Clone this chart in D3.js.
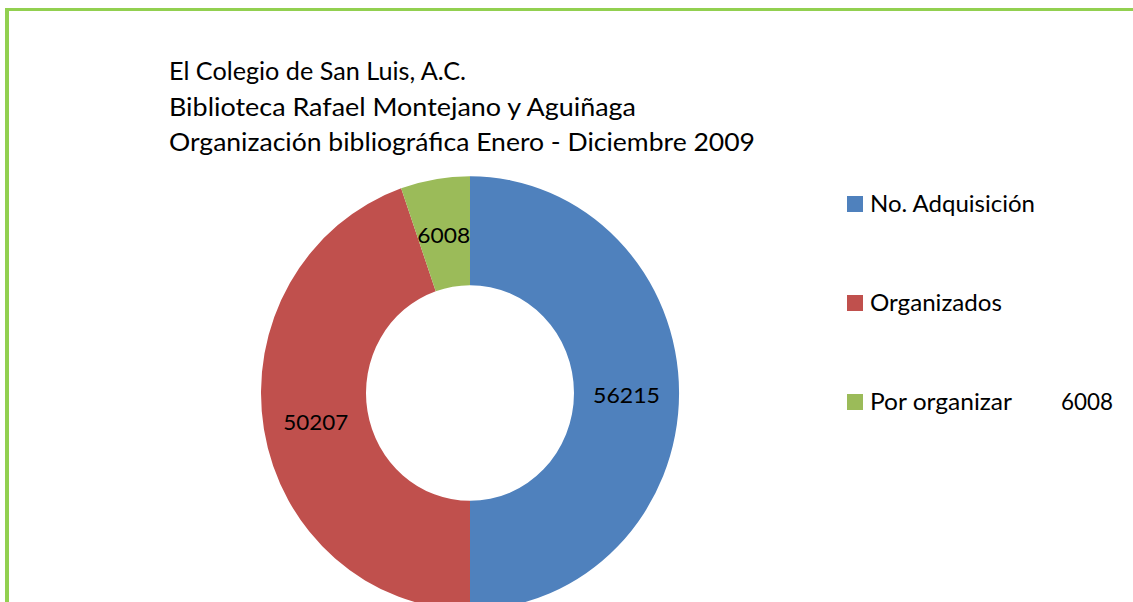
<!DOCTYPE html>
<html>
<head>
<meta charset="utf-8">
<script src="https://cdn.jsdelivr.net/npm/d3@7"></script>
<style>
  html, body { margin: 0; padding: 0; background: #fff; }
  svg { display: block; }
  text { font-family: Lato, "Open Sans", sans-serif; fill: #000; }
</style>
</head>
<body>
<script>
// ---- data ----
const categories = ["No. Adquisición", "Organizados", "Por organizar"];
const values = [56215, 50207, 6008];
const colors = ["#4f81bd", "#c0504d", "#9bbb59"];
const titleLines = [
  "El Colegio de San Luis, A.C.",
  "Biblioteca Rafael Montejano y Aguiñaga",
  "Organización bibliográfica Enero - Diciembre 2009"
];
const legendExtra = ["", "", "6008"];

// ---- layout ----
const W = 1133, H = 602;
const svg = d3.select("body").append("svg").attr("width", W).attr("height", H);

// frame (green border, top and left visible)
svg.append("rect").attr("x", 5).attr("y", 8).attr("width", W).attr("height", 3).attr("fill", "#92d050");
svg.append("rect").attr("x", 5).attr("y", 8).attr("width", 4).attr("height", H).attr("fill", "#92d050");

// title
const titleWidths = [297, 467, 586];
svg.append("g").selectAll("text").data(titleLines).join("text")
  .attr("x", 169)
  .attr("y", (d, i) => 80 + i * 35.5)
  .attr("font-size", 25)
  .attr("textLength", (d, i) => titleWidths[i])
  .attr("lengthAdjust", "spacingAndGlyphs")
  .text(d => d);

// donut
const cx = 470, cy = 393, rOuter = 209, rInner = 104;
const pie = d3.pie().sort(null).value(d => d.value);
const arcs = pie(categories.map((c, i) => ({ cat: c, value: values[i], color: colors[i] })));
const arc = d3.arc().innerRadius(rInner).outerRadius(rOuter);
const labelArc = d3.arc().innerRadius((rInner + rOuter) / 2).outerRadius((rInner + rOuter) / 2);

const g = svg.append("g").attr("transform", `translate(${cx},${cy}) scale(1,1.037)`);
g.selectAll("path").data(arcs).join("path")
  .attr("d", arc)
  .attr("fill", d => d.data.color);

const labelWidths = [67, 65, 53];
svg.append("g").selectAll("text").data(arcs).join("text")
  .attr("x", d => cx + labelArc.centroid(d)[0])
  .attr("y", d => cy + labelArc.centroid(d)[1] * 1.037 + 10)
  .attr("text-anchor", "middle")
  .attr("font-size", 22)
  .attr("textLength", (d, i) => labelWidths[i])
  .attr("lengthAdjust", "spacingAndGlyphs")
  .text(d => d.data.value);

// legend
const legendY = [196, 295, 394];
const legendWidths = [165, 132, 142];
const legendItems = categories.map((c, i) => ({ cat: c, color: colors[i], extra: legendExtra[i], y: legendY[i], w: legendWidths[i] }));
const lg = svg.append("g").selectAll("g").data(legendItems).join("g")
  .attr("transform", d => `translate(847,${d.y})`);
lg.append("rect").attr("width", 16).attr("height", 16).attr("fill", d => d.color);
lg.append("text")
  .attr("x", 23).attr("y", 16)
  .attr("font-size", 24)
  .attr("textLength", d => d.w)
  .attr("lengthAdjust", "spacingAndGlyphs")
  .text(d => d.cat);
lg.filter(d => d.extra !== "").append("text")
  .attr("x", 214).attr("y", 16)
  .attr("font-size", 24)
  .attr("textLength", 52)
  .attr("lengthAdjust", "spacingAndGlyphs")
  .text(d => d.extra);
</script>
</body>
</html>
